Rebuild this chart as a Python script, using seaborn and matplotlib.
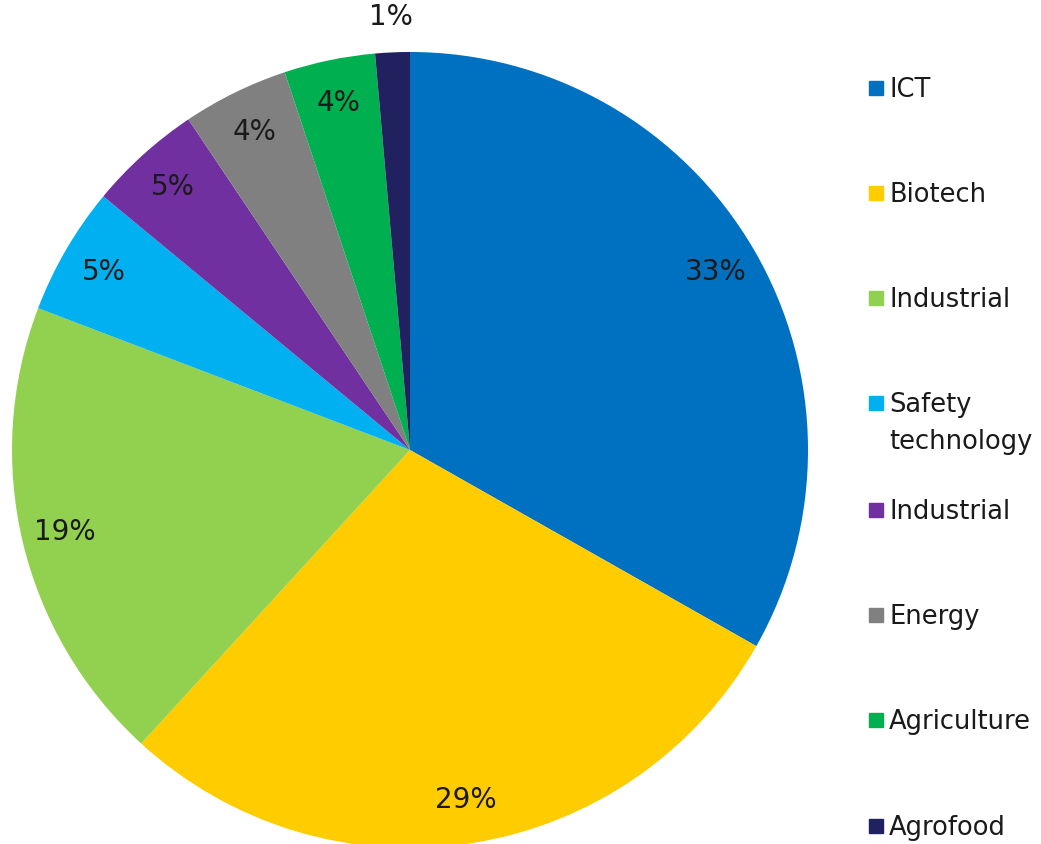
import matplotlib
matplotlib.use("Agg")
import matplotlib.pyplot as plt
import seaborn as sns
import numpy as np

sns.set_theme(style="white")
plt.rcParams['font.family'] = ['DejaVu Sans']

# sector shares and shown labels
sectors = ['ICT', 'Biotech', 'Industrial', 'Safety\ntechnology', 'Industrial',
           'Energy', 'Agriculture', 'Agrofood']
shares = [33.2, 28.6, 19.0, 5.2, 4.6, 4.3, 3.7, 1.4]
pct_labels = ['33%', '29%', '19%', '5%', '5%', '4%', '4%', '1%']
colors = ['#0070C0', '#FFCC00', '#92D050', '#00B0F0', '#7030A0',
          '#808080', '#00B050', '#212160']

fig = plt.figure(figsize=(10.41, 8.44), dpi=100)
W, H = 1041, 844
cx, cy, r = 410, 450, 398
ax = fig.add_axes([(cx - r) / W, (H - cy - r) / H, 2 * r / W, 2 * r / H])

wedges, _ = ax.pie(shares, colors=colors, startangle=90, counterclock=False,
                   radius=1.0, wedgeprops=dict(linewidth=0))
ax.set_xlim(-1, 1)
ax.set_ylim(-1, 1)
ax.set_aspect('auto')
ax.axis('off')

# percentage labels inside the slices (last one outside)
for i, w in enumerate(wedges):
    ang = np.deg2rad((w.theta1 + w.theta2) / 2)
    d = 1.09 if i == len(wedges) - 1 else 0.89
    ax.text(d * np.cos(ang), d * np.sin(ang), pct_labels[i], ha='center',
            va='center', fontsize=20, color='#1a1a1a')

# legend on the right, drawn by hand so the box sits on the first line
leg_y = [88, 193, 298, 403, 510, 615, 720, 826]
for lab, col, y in zip(sectors, colors, leg_y):
    fig.patches.append(plt.Rectangle((869 / W, (H - y - 7) / H), 14 / W, 14 / H,
                                     transform=fig.transFigure, color=col))
    for k, line in enumerate(lab.split('\n')):
        fig.text(889 / W, (H - y - 9 - 37 * k) / H, line, ha='left', va='baseline',
                 fontsize=18.5, color='#1a1a1a')

fig.savefig('out.png', dpi=100, facecolor='white')
